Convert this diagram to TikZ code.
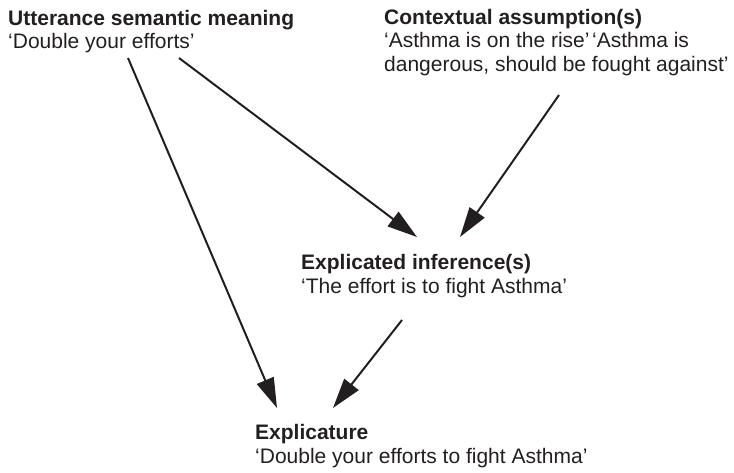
\documentclass[tikz,border=0pt]{standalone}
\usepackage{fontspec}
\setmainfont{Liberation Sans}
\usetikzlibrary{arrows.meta}
\definecolor{ink}{HTML}{231F20}
\begin{document}
\begin{tikzpicture}[x=1pt,y=-1pt,
  label text/.style={anchor=base west, inner sep=0pt, align=left, text=ink,
    font=\fontsize{21}{23.5}\selectfont},
  link/.style={draw=ink, line width=2pt,
    -{Triangle[length=30pt,width=18pt]}}]
  \useasboundingbox (0,0) rectangle (734,472);

  % text blocks, placed by the baseline of their last line
  \node[label text] (utt) at (8,48.5)
    {\textbf{Utterance semantic meaning}\\`Double your efforts'};
  \node[label text] (ctx) at (384,71)
    {\textbf{Contextual assumption(s)}\\`Asthma is on the rise'\hspace{0.12em}`Asthma is\\dangerous, should be fought against'};
  \node[label text] (inf) at (301,293)
    {\textbf{Explicated inference(s)}\\`The effort is to fight Asthma'};
  \node[label text] (expc) at (255,463)
    {\textbf{Explicature}\\`Double your efforts to fight Asthma'};

  % connector end points
  \coordinate (utt-a) at (128,58);
  \coordinate (utt-b) at (179,58);
  \coordinate (ctx-a) at (559,95);
  \coordinate (inf-in-a) at (417,237);
  \coordinate (inf-in-b) at (460,237);
  \coordinate (inf-out) at (402,320);
  \coordinate (expc-in-a) at (277,408);
  \coordinate (expc-in-b) at (333,408);

  % connectors
  \draw[link] (utt-a) -- (expc-in-a);
  \draw[link] (utt-b) -- (inf-in-a);
  \draw[link] (ctx-a) -- (inf-in-b);
  \draw[link] (inf-out) -- (expc-in-b);
\end{tikzpicture}
\end{document}
